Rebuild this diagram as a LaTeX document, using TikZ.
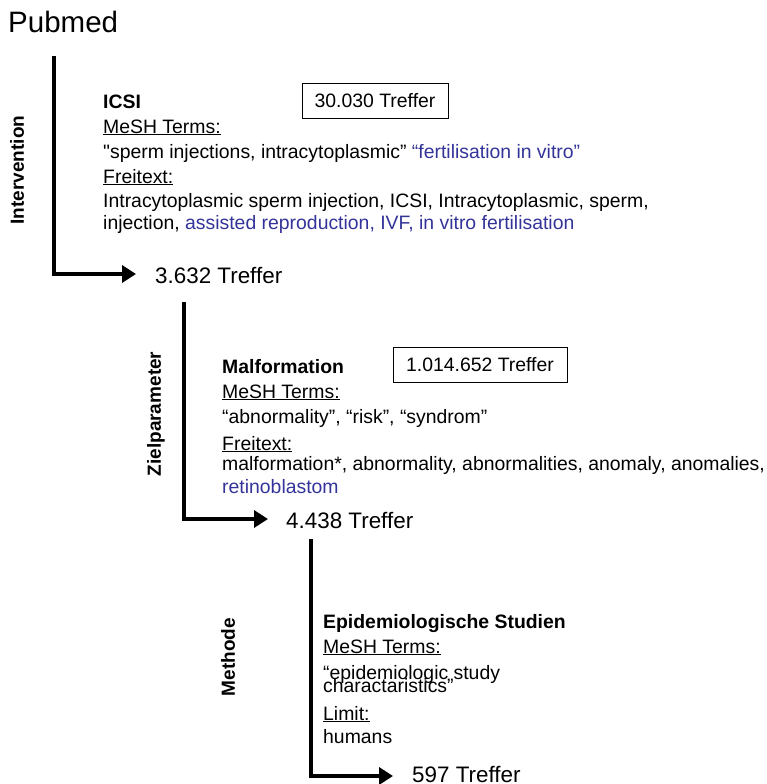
\documentclass[tikz,border=0pt]{standalone}
\usepackage{fontspec}
\setmainfont{Liberation Sans}[Ligatures=TeXOff]
\usetikzlibrary{arrows.meta}
\definecolor{linkblue}{RGB}{51,51,153}
\tikzset{
  flow/.style={line width=4pt,-{Triangle[length=14pt,width=17pt]}},
  body/.style={anchor=base west,inner sep=0pt,font=\fontsize{19.4}{24}\selectfont},
  head/.style={body,font=\fontsize{19.4}{24}\selectfont\bfseries},
  side/.style={rotate=90,inner sep=0pt,font=\fontsize{19}{23}\selectfont\bfseries},
  count/.style={anchor=base west,inner sep=0pt,font=\fontsize{22.4}{26}\selectfont},
  hitbox/.style={draw,line width=1pt,inner sep=0pt,font=\fontsize{19.4}{24}\selectfont}
}
\begin{document}
\begin{tikzpicture}[x=1pt,y=-1pt]
\useasboundingbox (0,0) rectangle (766,784);
% title
\node[anchor=base west,inner sep=0pt,font=\fontsize{29.5}{34}\selectfont] (title) at (8,33) {Pubmed};

% block 1
\coordinate (t1) at (54,56);
\coordinate (c1) at (54,274);
\coordinate (e1) at (136,274);
\node[count] (r1) at (155,283) {3.632 Treffer};
\node[side] (l1) at (17,170) {Intervention};
\node[head] (h1) at (103,108) {ICSI};
\node[hitbox,minimum width=146pt,minimum height=35pt] (b1) at (375,100.5) {30.030 Treffer};
\node[body] (m1) at (103,133) {\underline{MeSH Terms:}};
\node[body] (m1a) at (103,158) {"sperm injections, intracytoplasmic” \textcolor{linkblue}{“fertilisation in vitro”}};
\node[body] (f1) at (103,183) {\underline{Freitext:}};
\node[body] (f1a) at (103,207) {Intracytoplasmic sperm injection, ICSI, Intracytoplasmic, sperm,};
\node[body] (f1b) at (103,229) {injection, \textcolor{linkblue}{assisted reproduction, IVF, in vitro fertilisation}};

% block 2
\coordinate (t2) at (184,302);
\coordinate (c2) at (184,519);
\coordinate (e2) at (268,519);
\node[count] (r2) at (286,528) {4.438 Treffer};
\node[side] (l2) at (156,414) {Zielparameter};
\node[head] (h2) at (222,373) {Malformation};
\node[hitbox,minimum width=174pt,minimum height=35pt] (b2) at (480,364.5) {1.014.652 Treffer};
\node[body] (m2) at (222,398) {\underline{MeSH Terms:}};
\node[body] (m2a) at (222,423) {“abnormality”, “risk”, “syndrom”};
\node[body] (f2) at (222,450) {\underline{Freitext:}};
\node[body] (f2a) at (222,470) {malformation*, abnormality, abnormalities, anomaly, anomalies,};
\node[body] (f2b) at (222,493) {\textcolor{linkblue}{retinoblastom}};

% block 3
\coordinate (t3) at (311,539);
\coordinate (c3) at (311,776);
\coordinate (e3) at (393,776);
\node[count] (r3) at (412,782) {597 Treffer};
\node[side] (l3) at (228,657) {Methode};
\node[head] (h3) at (323,628) {Epidemiologische Studien};
\node[body] (m3) at (323,653) {\underline{MeSH Terms:}};
\node[body] (m3a) at (323,679) {“epidemiologic study};
\node[body] (m3b) at (323,692) {charactaristics”};
\node[body] (lm) at (323,720) {\underline{Limit:}};
\node[body] (lma) at (323,743) {humans};

% connectors
\draw[flow] (t1) -- (c1) -- (e1);
\draw[flow] (t2) -- (c2) -- (e2);
\draw[flow] (t3) -- (c3) -- (e3);
\end{tikzpicture}
\end{document}
